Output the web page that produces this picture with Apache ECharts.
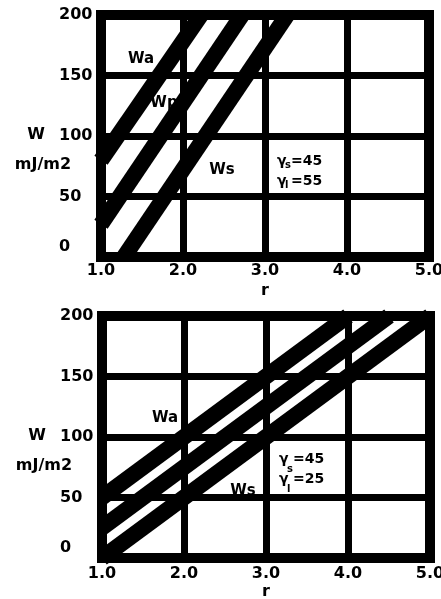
<!DOCTYPE html>
<html><head><meta charset="utf-8">
<script src="https://cdn.jsdelivr.net/npm/echarts@6/dist/echarts.min.js"></script>
<style>html,body{margin:0;padding:0;background:#fff}#c{width:441px;height:599px}</style>
</head><body><div id="c"></div>
<script>
// tick values
const xTicks = [1.0, 2.0, 3.0, 4.0, 5.0];
const yTicks = [0, 50, 100, 150, 200];
// top panel: gamma_s = 45, gamma_l = 55
const topWa = [[1.0, 80], [2.22, 200]];
const topWp = [[1.0, 27], [2.72, 200]];
const topWs = [[1.28, 0], [3.27, 200]];
// bottom panel: gamma_s = 45, gamma_l = 25
const botWa = [[1.0, 50], [4.0, 200]];
const botWp = [[1.0, 25], [4.5, 200]];
const botWs = [[1.0, 0], [5.0, 200]];

const FONT = '"DejaVu Sans", sans-serif';
const chart = echarts.init(document.getElementById('c'), null, {renderer: 'canvas'});

function xAxis(gi) {
  return {
    gridIndex: gi, type: 'value', min: xTicks[0], max: xTicks[xTicks.length - 1], interval: 1,
    name: 'r', nameLocation: 'middle', nameGap: 26, nameMoveOverlap: false,
    nameTextStyle: {color: '#000', fontFamily: FONT, fontWeight: 'bold', fontSize: 16},
    axisLine: {show: false}, axisTick: {show: false},
    axisLabel: {color: '#000', fontFamily: FONT, fontWeight: 'bold', fontSize: 16, margin: gi === 0 ? 6 : 8,
      formatter: v => v.toFixed(1)},
    splitLine: {show: true, lineStyle: {color: '#000', width: 7}}
  };
}
function yAxis(gi) {
  return {
    gridIndex: gi, type: 'value', min: yTicks[0], max: yTicks[yTicks.length - 1], interval: 50,
    name: '{w|W}\n{u|mJ/m2}', nameLocation: 'middle', nameRotate: 0, nameGap: 58, nameMoveOverlap: false,
    nameTextStyle: {color: '#000', fontFamily: FONT, fontWeight: 'bold', fontSize: 16, align: 'center',
      lineHeight: 30, padding: [27, 0, 0, 0],
      rich: {
        w: {fontFamily: FONT, fontWeight: 'bold', fontSize: 16, lineHeight: 30, padding: [0, 14, 0, 0]},
        u: {fontFamily: FONT, fontWeight: 'bold', fontSize: 16, lineHeight: 30}
      }},
    axisLine: {show: false}, axisTick: {show: false},
    axisLabel: {color: '#000', fontFamily: FONT, fontWeight: 'bold', fontSize: 16, align: 'left', margin: 42,
      formatter: v => v === 0 ? '{z|0}' : String(v),
      rich: {z: {fontFamily: FONT, fontWeight: 'bold', fontSize: 16, padding: [0, 0, 20, 0]}}},
    splitLine: {show: true, lineStyle: {color: '#000', width: 7}}
  };
}
function band(name, data, gi) {
  return {
    name, type: 'line', xAxisIndex: gi, yAxisIndex: gi, data, symbol: 'none',
    lineStyle: {color: '#000', width: 16, cap: 'butt'}, z: 3, animation: false
  };
}
function txt(x, y, text, size, z) {
  return {type: 'text', x, y, z: z === undefined ? 10 : z,
    style: {text, font: 'bold ' + size + 'px ' + FONT, fill: '#000', align: 'center', verticalAlign: 'middle'}};
}
function gammaBlock(x0, y0, sub1, sub2, v1, v2, subDy) {
  const g = 'bold 14px ' + FONT, s = 'bold 10px ' + FONT;
  const el = [];
  [[y0, sub1, v1], [y0 + 20, sub2, v2]].forEach(([y, sb, v]) => {
    el.push({type: 'text', x: x0, y, z: 10, style: {text: 'γ', font: g, fill: '#000', align: 'left', verticalAlign: 'middle'}});
    el.push({type: 'text', x: x0 + 8, y: y + subDy, z: 10, style: {text: sb, font: s, fill: '#000', align: 'left', verticalAlign: 'middle'}});
    el.push({type: 'text', x: x0 + 14, y, z: 10, style: {text: v, font: g, fill: '#000', align: 'left', verticalAlign: 'middle'}});
  });
  return el;
}

const option = {
  backgroundColor: '#fff',
  animation: false,
  grid: [
    {left: 101, top: 15, width: 328, height: 242, show: true, borderColor: '#000', borderWidth: 10,
      backgroundColor: 'transparent', containLabel: false, outerBoundsMode: 'none'},
    {left: 102, top: 316, width: 328, height: 242, show: true, borderColor: '#000', borderWidth: 10,
      backgroundColor: 'transparent', containLabel: false, outerBoundsMode: 'none'}
  ],
  xAxis: [xAxis(0), xAxis(1)],
  yAxis: [yAxis(0), yAxis(1)],
  series: [
    band('Wa', topWa, 0), band('Wp', topWp, 0), band('Ws', topWs, 0),
    band('Wa', botWa, 1), band('Wp', botWp, 1), band('Ws', botWs, 1)
  ],
  graphic: [
    txt(141, 59, 'Wa', 15), txt(164, 103, 'Wp', 15), txt(222, 170, 'Ws', 15),
    txt(165, 418, 'Wa', 15), txt(243, 491, 'Ws', 15, -1),
    ...gammaBlock(277, 161, 's', 'l', '=45', '=55', 4),
    ...gammaBlock(279, 459, 's', 'l', '=45', '=25', 10)
  ]
};
chart.setOption(option);
</script></body></html>
